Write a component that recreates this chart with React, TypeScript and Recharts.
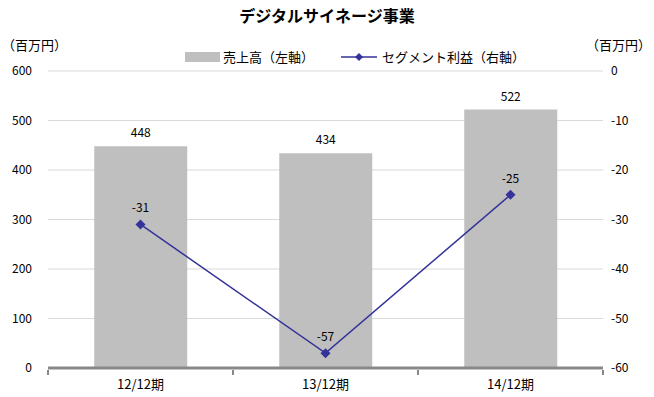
import { ComposedChart, Bar, Line, XAxis, YAxis, CartesianGrid, LabelList } from "recharts";

const periods = ["12/12期", "13/12期", "14/12期"];
const sales = [448, 434, 522];
const segmentProfit = [-31, -57, -25];
const leftTicks = [0, 100, 200, 300, 400, 500, 600];
const rightTicks = [-60, -50, -40, -30, -20, -10, 0];

const data = periods.map((p, i) => ({ period: p, sales: sales[i], profit: segmentProfit[i] }));

const FONT = "'Noto Sans CJK JP', 'Noto Sans', sans-serif";
const W = 654;
const H = 397;
const PLOT_LEFT = 48;
const PLOT_RIGHT = 603;
const HALF_BAND = (PLOT_RIGHT - PLOT_LEFT) / periods.length / 2;

const Diamond = (props: any) => {
  const { cx, cy } = props;
  if (cx == null || cy == null) return null;
  return <path d={`M${cx},${cy - 5}L${cx + 5},${cy}L${cx},${cy + 5}L${cx - 5},${cy}Z`} fill="#333399" />;
};

const XTick = (props: any) => {
  const { x, y, payload, index } = props;
  return (
    <g>
      <line x1={x - HALF_BAND} x2={x - HALF_BAND} y1={y - 6} y2={y - 1} stroke="#888" strokeWidth={2} />
      {index === periods.length - 1 && (
        <line x1={x + HALF_BAND} x2={x + HALF_BAND} y1={y - 6} y2={y - 1} stroke="#888" strokeWidth={2} />
      )}
      <text x={x} y={y + 13} textAnchor="middle" fontSize={13} fill="#000" fontFamily={FONT}>
        {payload.value}
      </text>
    </g>
  );
};

export default function App() {
  return (
    <div style={{ position: "absolute", left: 0, top: 0, width: W, height: H, background: "#fff", fontFamily: FONT }}>
      <div style={{ position: "absolute", top: 3, left: 0, width: W, textAlign: "center", fontSize: 16, fontWeight: 700 }}>
        デジタルサイネージ事業
      </div>
      <div style={{ position: "absolute", top: 35, left: 2, fontSize: 13 }}>（百万円）</div>
      <div style={{ position: "absolute", top: 35, left: 586, fontSize: 13 }}>（百万円）</div>
      {/* legend */}
      <div style={{ position: "absolute", top: 47, left: 185, display: "flex", alignItems: "center", fontSize: 13, color: "#000" }}>
        <span style={{ display: "inline-block", width: 35, height: 10, background: "#BFBFBF", marginRight: 3 }} />
        <span>売上高（左軸）</span>
        <svg width={38} height={10} style={{ marginLeft: 26, marginRight: 4 }}>
          <line x1={1} x2={37} y1={5} y2={5} stroke="#333399" strokeWidth={1.5} />
          <path d="M19,1L23,5L19,9L15,5Z" fill="#333399" />
        </svg>
        <span>セグメント利益（右軸）</span>
      </div>
      <ComposedChart
        width={W}
        height={H}
        data={data}
        margin={{ top: 71, right: 0, bottom: 0, left: 0 }}
        barCategoryGap="25%"
      >
        <CartesianGrid horizontal vertical={false} stroke="#D9D9D9" yAxisId="left" />
        <XAxis
          dataKey="period"
          height={29}
          tickLine={false}
          axisLine={{ stroke: "#888", strokeWidth: 3 }}
          tick={<XTick />}
          interval={0}
        />
        <YAxis
          yAxisId="left"
          orientation="left"
          width={PLOT_LEFT}
          domain={[0, 600]}
          ticks={leftTicks}
          tickLine={false}
          axisLine={false}
          tickSize={0}
          tickMargin={16}
          tick={{ fontSize: 12, fill: "#000", fontFamily: FONT }}
        />
        <YAxis
          yAxisId="right"
          orientation="right"
          width={W - PLOT_RIGHT}
          domain={[-60, 0]}
          ticks={rightTicks}
          tickLine={false}
          axisLine={false}
          tickSize={0}
          tickMargin={8}
          tick={{ fontSize: 12, fill: "#000", fontFamily: FONT, textAnchor: "start" }}
        />
        <Bar yAxisId="left" dataKey="sales" fill="#BFBFBF" isAnimationActive={false}>
          <LabelList dataKey="sales" position="top" offset={9} fontSize={12} fill="#000" fontFamily={FONT} />
        </Bar>
        <Line
          yAxisId="right"
          dataKey="profit"
          stroke="#333399"
          strokeWidth={1.5}
          dot={<Diamond />}
          activeDot={false}
          isAnimationActive={false}
        >
          <LabelList dataKey="profit" position="top" offset={12} fontSize={12} fill="#000" fontFamily={FONT} />
        </Line>
      </ComposedChart>
    </div>
  );
}
